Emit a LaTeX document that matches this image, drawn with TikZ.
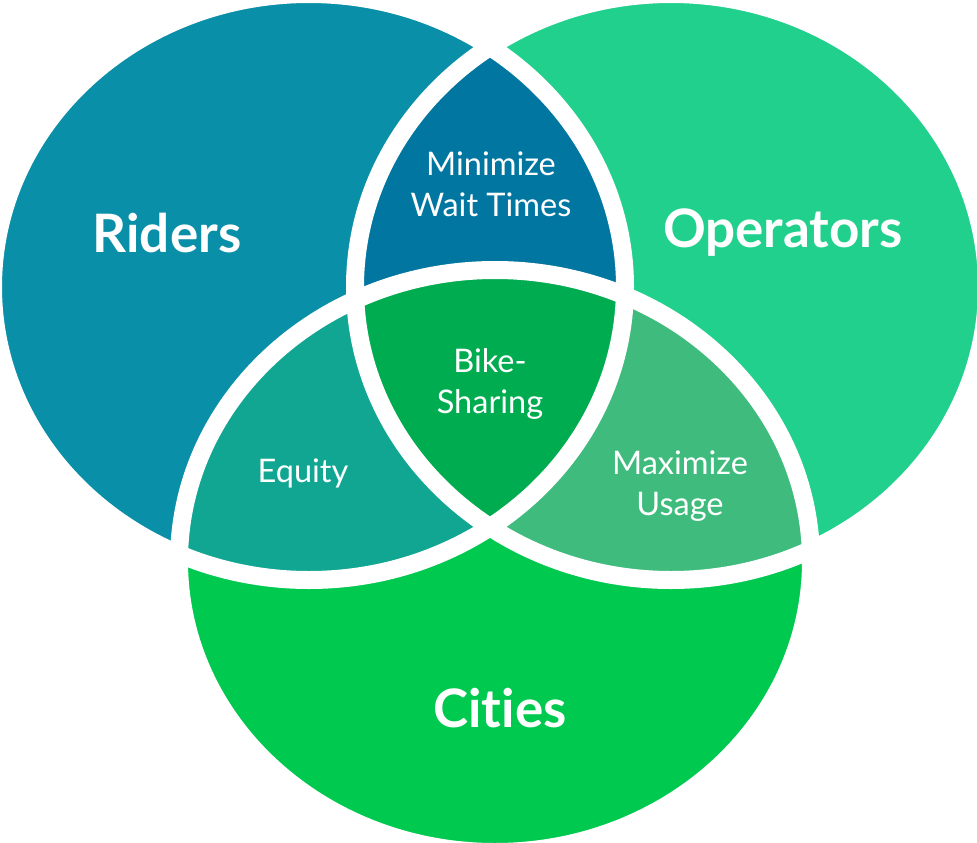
\documentclass[tikz,border=0pt]{standalone}
\usepackage{fontspec}
\setmainfont[Ligatures=NoCommon]{Lato}
\begin{document}
\begin{tikzpicture}[x=1pt,y=-1pt,
  big/.style={text=white,font=\fontsize{53}{62}\selectfont\bfseries,inner sep=0pt},
  small/.style={text=white,font=\fontsize{32.5}{41}\selectfont,align=center,inner sep=0pt}]
\definecolor{ridersc}{HTML}{0A8FA8}
\definecolor{operc}{HTML}{20D08C}
\definecolor{citiesc}{HTML}{00C94F}
\definecolor{rocol}{HTML}{0076A1}
\definecolor{rccol}{HTML}{10A692}
\definecolor{occol}{HTML}{3FBC7D}
\definecolor{allcol}{HTML}{00AC50}
\def\ridersE{(309,287) ellipse [x radius=316pt, y radius=293pt]}
\def\operE{(671,287) ellipse [x radius=316pt, y radius=293pt]}
\def\citiesE{(495,561) ellipse [x radius=316pt, y radius=291pt]}
\useasboundingbox (0,0) rectangle (977,843);
\fill[white] (0,0) rectangle (977,843);
% base sets
\fill[ridersc] \ridersE;
\fill[operc] \operE;
\fill[citiesc] \citiesE;
% pairwise overlaps
\begin{scope}
  \clip \ridersE;
  \fill[rocol] \operE;
  \fill[rccol] \citiesE;
\end{scope}
\begin{scope}
  \clip \operE;
  \fill[occol] \citiesE;
\end{scope}
% triple overlap
\begin{scope}
  \clip \ridersE;
  \clip \operE;
  \fill[allcol] \citiesE;
\end{scope}
% white outlines
\draw[white,line width=18pt] \ridersE;
\draw[white,line width=18pt] \operE;
\draw[white,line width=18pt] \citiesE;
% labels
\node[big] (riders) at (167,233) {Riders};
\node[big] (operators) at (783,233) {Operators};
\node[big] (cities) at (500,708) {Cities};
\node[small] (wait) at (491,184) {Minimize\\Wait Times};
\node[small] (bike) at (490,384) {Bike-\\Sharing};
\node[small] (equity) at (303,473) {Equity};
\node[small] (usage) at (680,486) {Maximize\\Usage};
\end{tikzpicture}
\end{document}
